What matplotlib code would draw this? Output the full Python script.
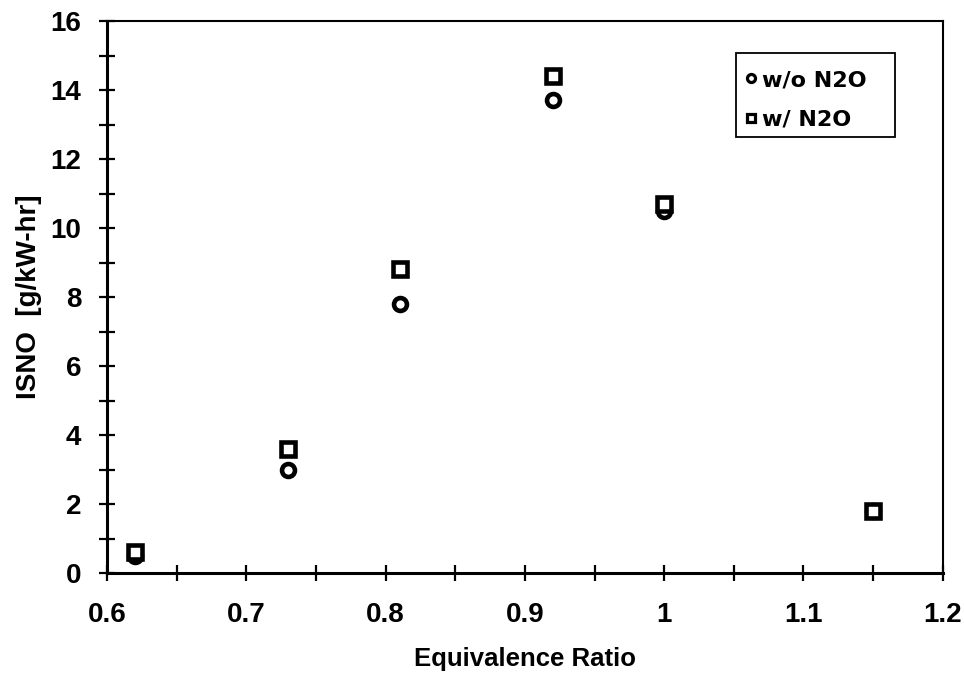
import matplotlib
matplotlib.use("Agg")
import matplotlib.pyplot as plt
from matplotlib.ticker import MultipleLocator
from matplotlib.patches import Rectangle

plt.rcParams['font.family'] = ['Liberation Sans', 'DejaVu Sans']

phi = [0.62, 0.73, 0.81, 0.92, 1.00, 1.15]
isno_wo = [0.5, 3.0, 7.8, 13.7, 10.5, 1.8]
isno_w = [0.6, 3.6, 8.8, 14.4, 10.7, 1.8]
xtick_vals = [0.6, 0.7, 0.8, 0.9, 1.0, 1.1, 1.2]
xtick_labels = ['0.6', '0.7', '0.8', '0.9', '1', '1.1', '1.2']

fig = plt.figure(figsize=(9.64, 6.79), dpi=100)
ax = fig.add_axes([0.111, 0.156, 0.867, 0.813])

ax.plot(phi, isno_wo, linestyle='none', marker='o', markersize=9.3,
        markerfacecolor='white', markeredgecolor='black', markeredgewidth=3.3,
        label='w/o N2O')
ax.plot(phi, isno_w, linestyle='none', marker='s', markersize=9.6,
        markerfacecolor='white', markeredgecolor='black', markeredgewidth=3.3,
        label='w/ N2O')

ax.set_xlim(0.6, 1.2)
ax.set_ylim(0, 16)
ax.xaxis.set_minor_locator(MultipleLocator(0.05))
ax.yaxis.set_major_locator(MultipleLocator(2))
ax.yaxis.set_minor_locator(MultipleLocator(1))
ax.set_xticks(xtick_vals)
ax.set_xticklabels(xtick_labels)

ax.tick_params(which='both', direction='inout', length=11, width=1.6,
               top=False, right=False, labelsize=20)
ax.tick_params(axis='x', which='major', pad=15)
ax.tick_params(axis='y', which='major', pad=13)
for lab in ax.get_xticklabels() + ax.get_yticklabels():
    lab.set_fontweight('bold')
for s in ax.spines.values():
    s.set_linewidth(1.5)
ax.spines['left'].set_linewidth(2.2)
ax.spines['bottom'].set_linewidth(2.2)

ax.set_xlabel('Equivalence Ratio', fontsize=18.5, fontweight='bold', labelpad=14)
ax.set_ylabel('ISNO  [g/kW-hr]', fontsize=20, fontweight='bold', labelpad=6)

# legend box (frame drawn separately)
ax.add_patch(Rectangle((0.7524, 0.790), 0.190, 0.152, transform=ax.transAxes,
                       facecolor='white', edgecolor='black', linewidth=1.3,
                       zorder=4))
leg = ax.legend(loc='upper left', bbox_to_anchor=(0.764, 0.911),
                prop={'family': 'DejaVu Sans', 'weight': 'bold', 'size': 16},
                frameon=False, handlelength=0.45,
                handletextpad=0.3, borderpad=0, labelspacing=0.88,
                borderaxespad=0)
leg.set_zorder(5)
for h in leg.legend_handles:
    h.set_markersize(5.8)
    h.set_markeredgewidth(2.3)

fig.savefig('out.png', dpi=100)
